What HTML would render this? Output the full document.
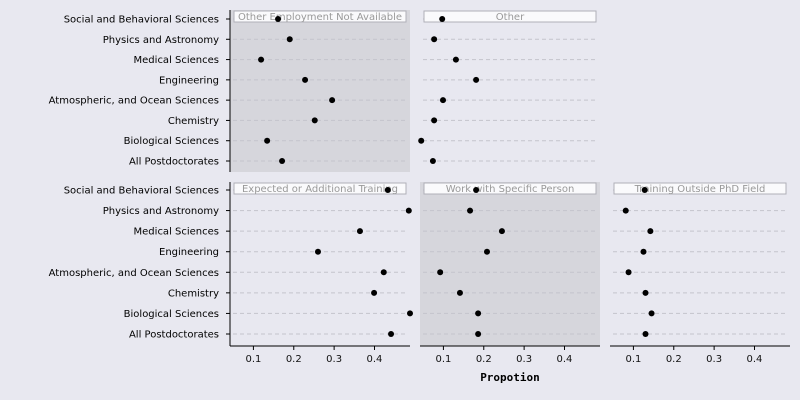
<!DOCTYPE html>
<html><head><meta charset="utf-8"><style>body{margin:0;background:#e8e8f0}svg{display:block;font-family:"DejaVu Sans","Liberation Sans",sans-serif}</style></head>
<body>
<svg id="c" width="800" height="400"></svg>
<script>
const categories=["Social and Behavioral Sciences","Physics and Astronomy","Medical Sciences","Engineering","Atmospheric, and Ocean Sciences","Chemistry","Biological Sciences","All Postdoctorates"];
const panelTitles=["Other Employment Not Available","Other","Expected or Additional Training","Work with Specific Person","Training Outside PhD Field"];
const valsOtherEmployment=[0.161,0.19,0.119,0.228,0.295,0.252,0.134,0.171];
const valsOther=[0.097,0.077,0.131,0.181,0.099,0.077,0.045,0.074];
const valsExpectedTraining=[0.433,0.485,0.364,0.26,0.423,0.399,0.488,0.441];
const valsSpecificPerson=[0.181,0.166,0.245,0.208,0.092,0.141,0.186,0.186];
const valsOutsideField=[0.128,0.081,0.142,0.125,0.088,0.13,0.145,0.13];
const xTicks=[0.1,0.2,0.3,0.4];
const NS="http://www.w3.org/2000/svg",svg=document.getElementById('c');
function el(t,a,p){const e=document.createElementNS(NS,t);for(const k in a)e.setAttribute(k,a[k]);(p||svg).appendChild(e);return e;}
const panels=[
 {x0:230,y0:10,y1:172,r0:19,r1:161,vals:valsOtherEmployment,title:panelTitles[0],shade:true,axis:false},
 {x0:420,y0:10,y1:172,r0:19,r1:161,vals:valsOther,title:panelTitles[1],shade:false,axis:false},
 {x0:230,y0:182,y1:346,r0:190,r1:334,vals:valsExpectedTraining,title:panelTitles[2],shade:false,axis:true},
 {x0:420,y0:182,y1:346,r0:190,r1:334,vals:valsSpecificPerson,title:panelTitles[3],shade:true,axis:true},
 {x0:610,y0:182,y1:346,r0:190,r1:334,vals:valsOutsideField,title:panelTitles[4],shade:false,axis:true}];
const W=180,xmin=0.042,xmax=0.488;
panels.forEach((p,pi)=>{
 const xs=v=>p.x0+(v-xmin)/(xmax-xmin)*W;
 const ys=i=>p.r0+i*(p.r1-p.r0)/(categories.length-1);
 const g=el('g',{});
 
 
 if(p.shade)el('rect',{x:p.x0,y:p.y0,width:W,height:p.y1-p.y0,fill:'#d6d6dc'},g);
 categories.forEach((c,i)=>{el('line',{x1:p.x0+3,x2:p.x0+W-3,y1:ys(i),y2:ys(i),stroke:'#c4c4cc','stroke-dasharray':'4,3','stroke-width':1},g);});
 const s=el('rect',{x:p.x0+4,y:p.y0+1,width:W-8,height:11,fill:'#fafafc',stroke:'#b0b0b8','stroke-width':1},g);
 
 
 const st=el('text',{x:p.x0+W/2,y:p.y0+10,'text-anchor':'middle','font-size':10,fill:'#999'},g);st.textContent=p.title;
 p.vals.forEach((v,i)=>{const d=el('circle',{cx:xs(v),cy:ys(i),r:3,fill:'#000'},g);
  
  });
 if(p.axis){
  el('line',{x1:p.x0,x2:p.x0+W,y1:p.y1,y2:p.y1,stroke:'#000'},g);
  xTicks.forEach(t=>{el('line',{x1:xs(t),x2:xs(t),y1:p.y1,y2:p.y1+4,stroke:'#000'},g);
   const tl=el('text',{x:xs(t),y:p.y1+16,'text-anchor':'middle','font-size':10,fill:'#111'},g);tl.textContent=t.toFixed(1);});
 }
 if(p.x0===230){
  el('line',{x1:p.x0,x2:p.x0,y1:p.y0,y2:p.y1,stroke:'#000'},g);
  categories.forEach((c,i)=>{el('line',{x1:p.x0-4,x2:p.x0,y1:ys(i),y2:ys(i),stroke:'#000'},g);
   const t=el('text',{x:p.x0-11,y:ys(i)+3.5,'text-anchor':'end','font-size':10,fill:'#000'},g);t.textContent=c;});
 }
});
const xl=el('text',{x:510,y:381,'text-anchor':'middle','font-size':11,'font-weight':'bold','font-family':'DejaVu Sans Mono, Liberation Mono, monospace',fill:'#000'});
xl.textContent='Propotion';


</script>
</body></html>
